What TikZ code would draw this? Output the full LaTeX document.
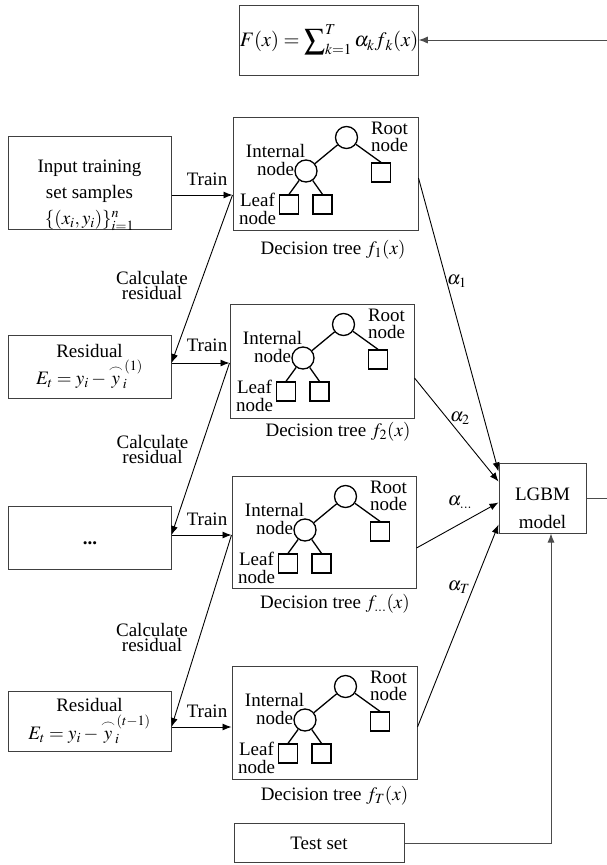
\documentclass[tikz,border=0pt]{standalone}
\usepackage{amsmath}
\usepackage{mathptmx}
\usepackage[no-math]{fontspec}
\setmainfont{Liberation Serif}
\usetikzlibrary{arrows.meta,calc}
\tikzset{
  box/.style={draw=black!75, line width=1pt, inner sep=0pt, align=center},
  txt/.style={inner sep=0pt, align=center},
  arr/.style={-{Latex[length=9pt,width=7pt]}, line width=0.9pt},
  garr/.style={arr, draw=black!70},
  tl/.style={line width=1.3pt},
  circ/.style={draw, circle, minimum size=22pt, inner sep=0pt, line width=1.3pt},
  sq/.style={draw, minimum size=19pt, inner sep=0pt, line width=1.3pt},
  lbl/.style={font=\fontsize{19}{17.5}\selectfont, align=center, inner sep=0pt},
  calc/.style={font=\fontsize{19}{15}\selectfont, align=center, inner sep=0pt},
  tbox/.style={box, minimum width=185pt, minimum height=113pt},
  lbox/.style={box, minimum width=163pt},
}
\newcommand\mytree[2]{%
  \begin{scope}[shift={(#1.north west)}]
    \node[circ] (#2r) at (114,21) {};
    \node[circ] (#2i) at (73.5,54.5) {};
    \node[sq] (#2s) at (148.5,56) {};
    \node[sq] (#2a) at (56.5,88) {};
    \node[sq] (#2b) at (90,88) {};
    \draw[tl] (#2r) -- (#2i);
    \draw[tl] (#2r) -- (#2s.north);
    \draw[tl] (#2i) -- (#2a.north);
    \draw[tl] (#2i) -- (#2b.north);
    \node[lbl] (#2rt) at (157,20.5) {Root\\node};
    \node[lbl] (#2it) at (43,43.5) {Internal\\node};
    \node[lbl] (#2lt) at (25,92.5) {Leaf\\node};
  \end{scope}}
\begin{document}
\begin{tikzpicture}[x=1pt,y=-1pt,font=\fontsize{19}{21}\selectfont]
\useasboundingbox (0,0) rectangle (606,865);

% formula box
\node[box, minimum width=176pt, minimum height=70pt, font=\fontsize{20.5}{24}\selectfont] (fbox) at (329,40)
  {$\displaystyle F(x)=\sum\nolimits_{k=1}^{T}\alpha_k f_{\,k}(x)$};

% left column
\node[lbox, minimum height=93pt] (input) at (89.5,182.5) {};
\node[txt, font=\fontsize{19}{26}\selectfont] (inputtxt) at (89.5,195)
  {Input training\\set samples\\$\{(x_i,y_i)\}_{i=1}^{n}$};
\node[lbox, minimum height=63pt, font=\fontsize{19}{27}\selectfont] (res1) at (89.5,366.5)
  {Residual\\$E_t=y_i-\overset{\frown}{y}_i^{\,(1)}$};
\node[lbox, minimum height=63pt] (dots) at (89.5,537.5) {};
\node[txt] (dotstxt) at (90,543) {\textbf{...}};
\node[lbox, minimum height=60pt, font=\fontsize{19}{28}\selectfont] (res2) at (89.5,721)
  {Residual\\$E_t=y_i-\overset{\frown}{y}_i^{\,(t-1)}$};

% trees
\node[tbox] (t1) at (325.5,173.5) {};
\node[tbox, minimum width=184pt, minimum height=114pt] (t2) at (322,361) {};
\node[tbox, minimum width=184pt, minimum height=112pt] (t3) at (324,532) {};
\node[tbox] (t4) at (324.5,722.5) {};
\mytree{t1}{ta}
\mytree{t2}{tb}
\mytree{t3}{tc}
\mytree{t4}{td}
\node[txt] (c1) at (333,250) {Decision tree $f_1(x)$};
\node[txt] (c2) at (338,432) {Decision tree $f_2(x)$};
\node[txt] (c3) at (335,604) {Decision tree $f_{...}(x)$};
\node[txt] (c4) at (334.5,796) {Decision tree $f_T(x)$};

% LGBM and test
\node[box, minimum width=87pt, minimum height=70pt] (lgbm) at (542.5,498) {};
\node[txt, font=\fontsize{19}{28}\selectfont] (lgbmtxt) at (542.5,508) {LGBM\\model};
\node[box, minimum width=170pt, minimum height=39pt] (test) at (319,843) {Test set};

% train arrows
\coordinate (a1) at ($(input.east)+(0,12.5)$);
\coordinate (a2) at ($(res1.east)+(0,-3.5)$);
\coordinate (a3) at ($(dots.east)+(0,-2.5)$);
\coordinate (a4) at ($(res2.east)+(0,6)$);
\coordinate (b1) at (a1 -| t1.west);
\coordinate (b2) at (a2 -| t2.west);
\coordinate (b3) at (a3 -| t3.west);
\coordinate (b4) at (a4 -| t4.west);
\foreach \k in {1,2,3,4}{\draw[arr] (a\k) -- (b\k);}
\node[txt] (tr1) at (207,179) {Train};
\node[txt] (tr2) at (207,345) {Train};
\node[txt] (tr3) at (207,519) {Train};
\node[txt] (tr4) at (207,711) {Train};

% calculate residual arrows
\draw[arr] (b1) -- (a2);
\draw[arr] (b2) -- (a3);
\draw[arr] (b3) -- (a4);
\node[calc] (cr1) at (152,285) {Calculate\\residual};
\node[calc] (cr2) at (152.5,449.5) {Calculate\\residual};
\node[calc] (cr3) at (152,637) {Calculate\\residual};

% alpha arrows
\draw[arr] ($(t1.east)+(0,4.5)$) -- ($(lgbm.north west)+(0,9)$);
\draw[arr] ($(t2.east)+(0,17)$) -- ($(lgbm.north west)+(0,19)$);
\draw[arr] ($(t3.east)+(0,16)$) -- ($(lgbm.north west)+(0,40)$);
\draw[arr] ($(t4.east)+(0,4.5)$) -- ($(lgbm.north west)+(0,62)$);
\node[txt] (al1) at (457,281) {$\alpha_1$};
\node[txt] (al2) at (460,418) {$\alpha_2$};
\node[txt] (al3) at (460,502) {$\alpha_{...}$};
\node[txt] (al4) at (459,587) {$\alpha_T$};

% output and test connectors
\draw[garr] (lgbm.east) -- ++(24,0) |- (fbox.east);
\draw[garr] (test.east) -| ($(lgbm.south)+(8.5,0)$);
\end{tikzpicture}
\end{document}
